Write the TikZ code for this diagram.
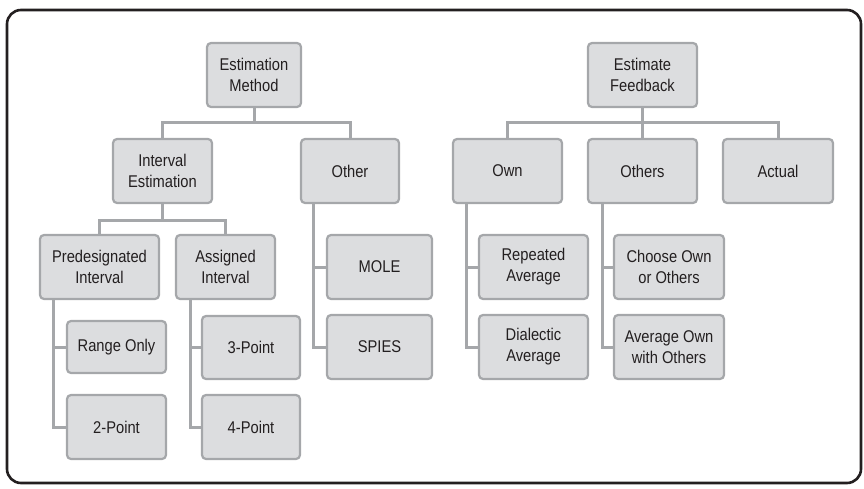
\documentclass[tikz,border=0pt]{standalone}
\usepackage{fontspec}
\setmainfont{Liberation Sans}[FakeStretch=0.865]
\begin{document}
\definecolor{boxfill}{HTML}{DCDDDF}
\definecolor{boxline}{HTML}{A5A7AA}
\definecolor{inkc}{HTML}{231F20}
\tikzset{
  box/.style={draw=boxline, fill=boxfill, line width=2.2pt, rounded corners=4pt,
    align=center, text=inkc, inner sep=2pt, minimum height=64pt,
    font=\fontsize{17}{21}\selectfont},
  conn/.style={draw=boxline, line width=3pt},
  frame/.style={draw=inkc, line width=2.6pt, rounded corners=14pt}
}
\begin{tikzpicture}[x=1pt,y=-1pt]
\useasboundingbox (0,0) rectangle (864,489);
\draw[frame] (7,10) rectangle (861,483);

% left tree: estimation method
\node[box, minimum width=94pt]  (em)    at (254,75)    {Estimation\\Method};
\node[box, minimum width=99pt]  (ie)    at (162.5,171) {Interval\\Estimation};
\node[box, minimum width=98pt]  (oth)   at (350,171)   {Other};
\node[box, minimum width=119pt] (pi)    at (99.5,267)  {Predesignated\\Interval};
\node[box, minimum width=99pt]  (ai)    at (225.5,267) {Assigned\\Interval};
\node[box, minimum width=99pt, minimum height=52pt] (ro) at (116.5,347) {Range Only};
\node[box, minimum width=99pt]  (p2)    at (116.5,427) {2-Point};
\node[box, minimum width=98pt, minimum height=63pt] (p3) at (251,347.5) {3-Point};
\node[box, minimum width=98pt]  (p4)    at (251,427)   {4-Point};
\node[box, minimum width=105pt] (mole)  at (379.5,267) {MOLE};
\node[box, minimum width=105pt] (spies) at (379.5,347) {SPIES};

% right tree: estimate feedback
\node[box, minimum width=109pt] (ef)     at (642.5,75)  {Estimate\\Feedback};
\node[box, minimum width=109pt] (own)    at (507.5,171) {Own};
\node[box, minimum width=109pt] (others) at (642.5,171) {Others};
\node[box, minimum width=110pt] (actual) at (778,171)   {Actual};
\node[box, minimum width=109pt] (ra)     at (533.5,267) {Repeated\\Average};
\node[box, minimum width=109pt] (da)     at (533.5,347) {Dialectic\\Average};
\node[box, minimum width=110pt] (co)     at (669,267)   {Choose Own\\or Others};
\node[box, minimum width=110pt] (ao)     at (669,347)   {Average Own\\with Others};

% bus points and side rails
\coordinate (b1) at (254,123);
\coordinate (b2) at (162.5,220);
\coordinate (b3) at (642.5,123);
\coordinate (r1) at (53,0);
\coordinate (r2) at (190,0);
\coordinate (r3) at (313,0);
\coordinate (r4) at (466,0);
\coordinate (r5) at (602,0);

% connectors
\draw[conn] (em.south) -- (b1);
\draw[conn] (ie.north) |- (b1) -| (oth.north);
\draw[conn] (ie.south) -- (b2);
\draw[conn] (pi.north) |- (b2) -| (ai.north);

\draw[conn] (pi.south -| r1) |- (p2.west);
\draw[conn] (ro.west -| r1) -- (ro.west);
\draw[conn] (ai.south -| r2) |- (p4.west);
\draw[conn] (p3.west -| r2) -- (p3.west);
\draw[conn] (oth.south -| r3) |- (spies.west);
\draw[conn] (mole.west -| r3) -- (mole.west);

\draw[conn] (ef.south) -- (b3);
\draw[conn] (own.north) |- (b3) -| (actual.north);
\draw[conn] (b3) -- (others.north);
\draw[conn] (own.south -| r4) |- (da.west);
\draw[conn] (ra.west -| r4) -- (ra.west);
\draw[conn] (others.south -| r5) |- (ao.west);
\draw[conn] (co.west -| r5) -- (co.west);
\end{tikzpicture}
\end{document}
